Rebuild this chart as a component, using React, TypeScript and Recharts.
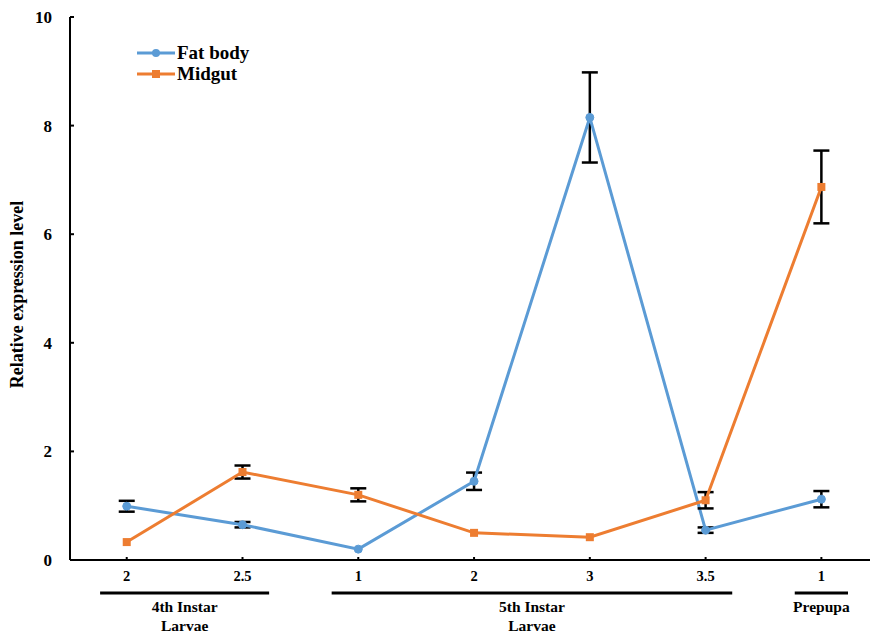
import React from 'react';
import { LineChart, Line, XAxis, YAxis, ErrorBar, Legend, ReferenceLine } from 'recharts';

const categories = ['2', '2.5', '1', '2', '3', '3.5', '1'];
const fatBody = [0.99, 0.65, 0.2, 1.45, 8.15, 0.55, 1.12];
const fatBodyErr = [0.1, 0.05, null, 0.16, 0.83, 0.05, 0.15];
const midgut = [0.33, 1.62, 1.2, 0.5, 0.42, 1.1, 6.87];
const midgutErr = [null, 0.12, 0.12, null, null, 0.15, 0.67];
const yTicks = [0, 2, 4, 6, 8, 10];

// stage groups under the x axis (first/last category index)
const groups = [
  { lines: ['4th Instar', 'Larvae'], first: 0, last: 1 },
  { lines: ['5th Instar', 'Larvae'], first: 2, last: 5 },
  { lines: ['Prepupa'], first: 6, last: 6 },
];

const data = categories.map((c, i) => ({
  idx: i,
  label: c,
  fat: fatBody[i],
  fatErr: fatBodyErr[i],
  mid: midgut[i],
  midErr: midgutErr[i],
}));

const FONT = '"Liberation Serif", "Times New Roman", serif';
const BLUE = '#5b9bd5';
const ORANGE = '#ed7d31';
const GROUP_PAD = 0.23;
const GROUP_Y = -0.61;

const SquareDot = (props: any) => {
  const { cx, cy } = props;
  if (cx == null || cy == null) return null;
  return <rect x={cx - 4} y={cy - 4} width={8} height={8} fill={ORANGE} />;
};

const LegendContent = (props: any) => {
  const { payload } = props;
  return (
    <div style={{ fontFamily: FONT, fontWeight: 'bold', fontSize: 19, lineHeight: '21px' }}>
      {payload.map((p: any) => (
        <div key={p.value} style={{ display: 'flex', alignItems: 'center' }}>
          <svg width={40} height={14}>
            <line x1={0} y1={7} x2={38} y2={7} stroke={p.color} strokeWidth={3} />
            {p.dataKey === 'fat' ? (
              <circle cx={19} cy={7} r={4} fill={p.color} />
            ) : (
              <rect x={15} y={3} width={8} height={8} fill={p.color} />
            )}
          </svg>
          <span style={{ color: '#000' }}>{p.value}</span>
        </div>
      ))}
    </div>
  );
};

const GroupLabel = (lines: string[]) => (props: any) => {
  const vb = props.viewBox || {};
  const cx = vb.x + vb.width / 2;
  const y = vb.y;
  return (
    <text x={cx} y={y} textAnchor="middle" fontFamily={FONT} fontWeight="bold" fontSize={15.5} fill="#000">
      {lines.map((l, i) => (
        <tspan key={i} x={cx} y={y + 19 + i * 19}>
          {l}
        </tspan>
      ))}
    </text>
  );
};

export default function App() {
  return (
    <div style={{ position: 'absolute', left: 0, top: 0, background: '#fff' }}>
      <LineChart width={870} height={634} data={data} margin={{ top: 17, right: 0, bottom: 44, left: 0 }}>
        <XAxis
          dataKey="idx"
          type="number"
          domain={[-0.49, 6.42]}
          ticks={[0, 1, 2, 3, 4, 5, 6]}
          tickFormatter={(v: number) => categories[v]}
          height={30}
          axisLine={{ stroke: '#000', strokeWidth: 2 }}
          tickLine={{ stroke: '#000', strokeWidth: 2 }}
          tickSize={-3}
          tickMargin={14}
          tick={{ fill: '#000', fontFamily: FONT, fontWeight: 'bold', fontSize: 14.5 }}
          allowDataOverflow
        />
        <YAxis
          domain={[0, 10]}
          ticks={yTicks}
          width={70}
          axisLine={{ stroke: '#000', strokeWidth: 2 }}
          tickLine={{ stroke: '#000', strokeWidth: 2 }}
          tickSize={-4}
          tickMargin={22}
          tick={{ fill: '#000', fontFamily: FONT, fontWeight: 'bold', fontSize: 17 }}
          label={{
            value: 'Relative expression level',
            angle: -90,
            position: 'insideLeft',
            offset: 17,
            dy: 6,
            style: { fill: '#000', fontFamily: FONT, fontWeight: 'bold', fontSize: 18, textAnchor: 'middle' },
          }}
        />
        <Legend
          verticalAlign="middle"
          align="center"
          layout="horizontal"
          wrapperStyle={{ left: 137, top: 42, width: 200 }}
          content={<LegendContent />}
        />
        {groups.map((g) => (
          <ReferenceLine
            key={g.lines.join(' ')}
            segment={[
              { x: g.first - GROUP_PAD, y: GROUP_Y },
              { x: g.last + GROUP_PAD, y: GROUP_Y },
            ]}
            ifOverflow="visible"
            stroke="#000"
            strokeWidth={3}
            label={GroupLabel(g.lines)}
          />
        ))}
        <Line
          type="linear"
          dataKey="fat"
          name="Fat body"
          stroke={BLUE}
          strokeWidth={3}
          dot={{ r: 4, fill: BLUE, stroke: BLUE, strokeWidth: 1 }}
          isAnimationActive={false}
        >
          <ErrorBar dataKey="fatErr" width={8} stroke="#000" strokeWidth={2.5} direction="y" />
        </Line>
        <Line
          type="linear"
          dataKey="mid"
          name="Midgut"
          stroke={ORANGE}
          strokeWidth={3}
          dot={<SquareDot />}
          isAnimationActive={false}
        >
          <ErrorBar dataKey="midErr" width={8} stroke="#000" strokeWidth={2.5} direction="y" />
        </Line>
      </LineChart>
    </div>
  );
}
